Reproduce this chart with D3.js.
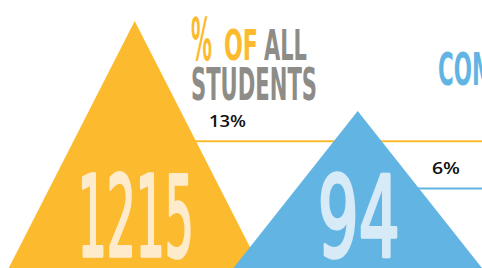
<!DOCTYPE html>
<html>
<head>
<meta charset="utf-8">
<script src="https://cdn.jsdelivr.net/npm/d3@7"></script>
<style>
  html, body { margin: 0; padding: 0; background: #fff; overflow: hidden; }
  svg { display: block; }
</style>
</head>
<body>
<svg id="chart" width="482" height="268"></svg>
<script>
const groups = ["all", "subgroup"];
const counts = [1215, 94];
const percents = [13, 6];

const width = 482;
const height = 268;
const baseY = 274;      // triangles sit just below the visible area
const halfBase = 129;

const fills = ["#fcbb2f", "#62b4e3"];
const numberFills = ["#fdebcb", "#d7eaf7"];
const numberWidths = [116, 82];

const svg = d3.select('#chart');

// triangle centres
const x = d3.scalePoint()
  .domain(groups)
  .range([134.7, 357.7]);

// triangle height from the percentage
const h = d3.scaleLinear()
  .domain([0, 13])
  .range([86, 253]);

const data = groups.map((g, i) => {
  const cx = x(g);
  const th = h(percents[i]);
  const apex = baseY - th;
  const lineY = apex + th * 0.475;
  const edge = cx + halfBase * (lineY - apex) / th;
  return { g, i, cx, apex, lineY, edge };
});

const tri = d => `M${d.cx - halfBase},${baseY}L${d.cx},${d.apex}L${d.cx + halfBase},${baseY}Z`;

// draw each group in order so the blue one covers the yellow rule
data.forEach(d => {
  const layer = svg.append('g');

  layer.append('path')
    .attr('d', tri(d))
    .attr('fill', fills[d.i]);

  layer.append('line')
    .attr('x1', d.edge - 1)
    .attr('x2', width)
    .attr('y1', d.lineY)
    .attr('y2', d.lineY)
    .attr('stroke', fills[d.i])
    .attr('stroke-width', 2);

  layer.append('text')
    .attr('x', d.edge + 13)
    .attr('y', d.lineY - 14.5)
    .attr('font-family', '"Open Sans", Lato, sans-serif')
    .attr('font-size', 17)
    .attr('font-weight', 600)
    .attr('fill', '#111')
    .attr('textLength', percents[d.i] >= 10 ? 37 : 28)
    .attr('lengthAdjust', 'spacingAndGlyphs')
    .text(percents[d.i] + '%');

  // normal weight plus a thin outline gives a medium stroke
  layer.append('text')
    .attr('x', d.cx + 1)
    .attr('y', 255.5)
    .attr('text-anchor', 'middle')
    .attr('font-family', '"Liberation Sans Narrow", "DejaVu Sans Condensed", sans-serif')
    .attr('font-size', 113)
    .attr('fill', numberFills[d.i])
    .attr('stroke', numberFills[d.i])
    .attr('stroke-width', 3.5)
    .attr('stroke-linejoin', 'round')
    .attr('textLength', numberWidths[d.i])
    .attr('lengthAdjust', 'spacingAndGlyphs')
    .text(counts[d.i]);
});

// headings
const cond = '"Liberation Sans Narrow", "DejaVu Sans Condensed", sans-serif';
const heads = [
  { t: '%', x: 191, y: 60, s: 58, w: 21, c: '#fcbb2f' },
  { t: 'OF', x: 224, y: 60, s: 43, w: 34, c: '#fcbb2f' },
  { t: 'ALL', x: 264, y: 60, s: 43, w: 43, c: '#8d8c87' },
  { t: 'STUDENTS', x: 191, y: 100, s: 44, w: 126, c: '#8d8c87' },
  { t: 'COMMUNITY', x: 438, y: 85, s: 44, w: 150, c: '#62b4e3' }
];

svg.selectAll('text.head')
  .data(heads)
  .enter()
  .append('text')
  .attr('class', 'head')
  .attr('x', d => d.x)
  .attr('y', d => d.y)
  .attr('font-family', cond)
  .attr('font-size', d => d.s)
  .attr('font-weight', 'bold')
  .attr('fill', d => d.c)
  .attr('textLength', d => d.w)
  .attr('lengthAdjust', 'spacingAndGlyphs')
  .text(d => d.t);
</script>
</body>
</html>
